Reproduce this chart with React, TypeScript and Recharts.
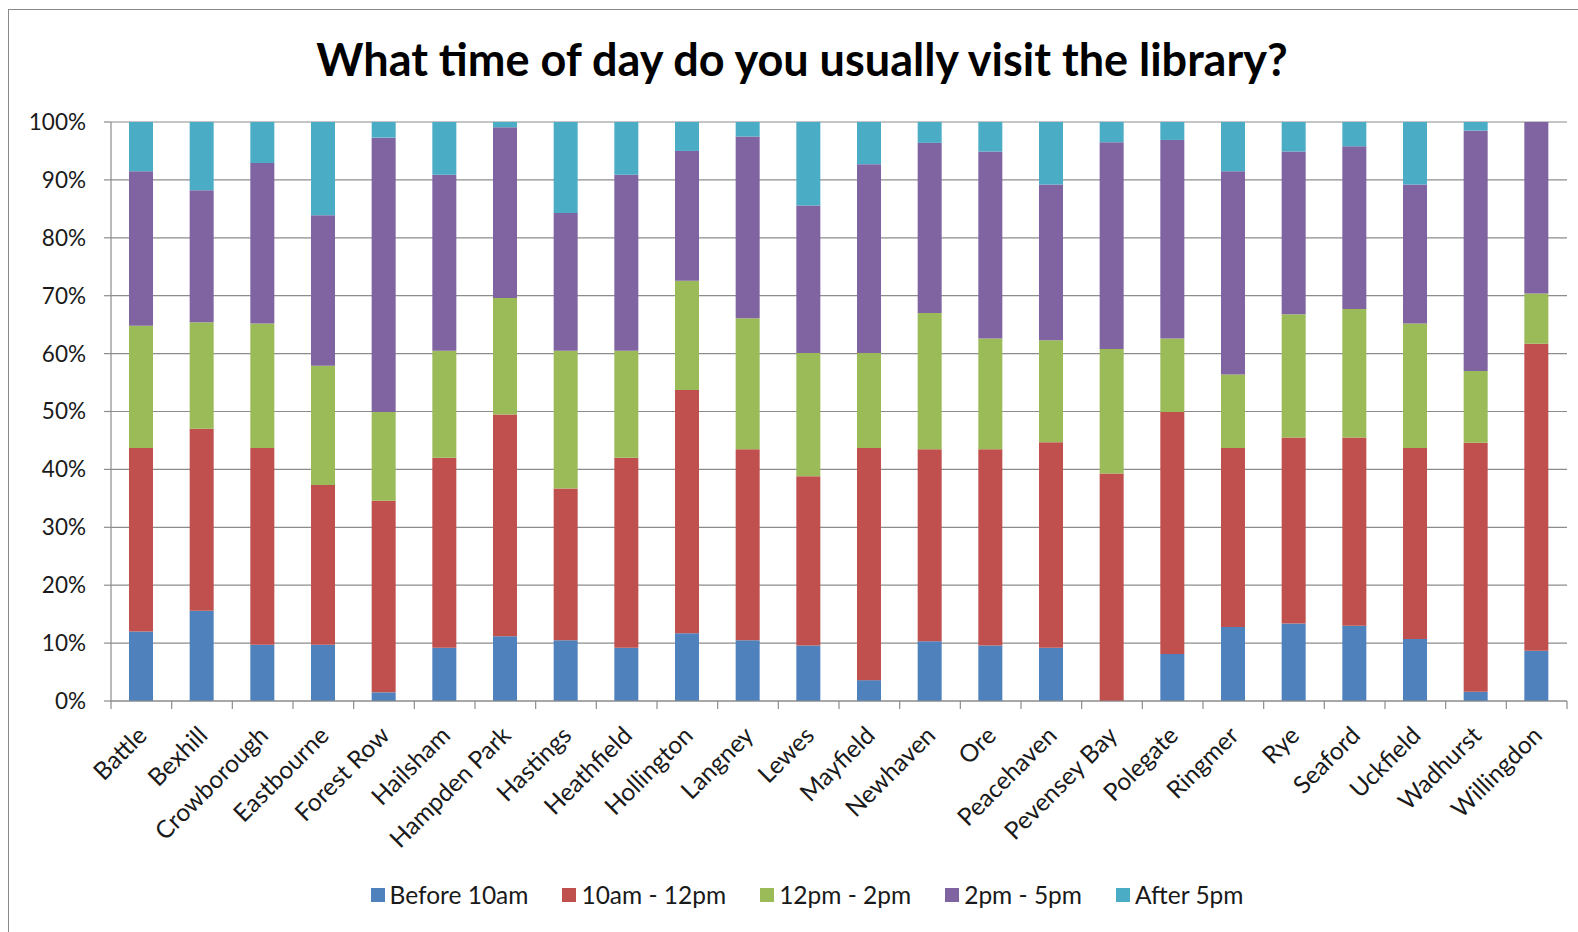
import React from "react";
import { BarChart, Bar, XAxis, YAxis, CartesianGrid } from "recharts";

const libraries = [
  "Battle", "Bexhill", "Crowborough", "Eastbourne", "Forest Row", "Hailsham",
  "Hampden Park", "Hastings", "Heathfield", "Hollington", "Langney", "Lewes",
  "Mayfield", "Newhaven", "Ore", "Peacehaven", "Pevensey Bay", "Polegate",
  "Ringmer", "Rye", "Seaford", "Uckfield", "Wadhurst", "Willingdon",
];

// percentages, per library
const before10 = [12, 15.6, 9.7, 9.7, 1.5, 9.2, 11.2, 10.5, 9.2, 11.7, 10.5, 9.6, 3.6, 10.3, 9.6, 9.2, 0, 8.1, 12.8, 13.4, 13, 10.7, 1.6, 8.7];
const am10to12 = [31.7, 31.4, 34, 27.6, 33.1, 32.8, 38.3, 26.2, 32.8, 42, 33, 29.2, 40.1, 33.2, 33.9, 35.5, 39.3, 41.8, 30.9, 32.1, 32.5, 33, 43, 53];
const pm12to2 = [21.1, 18.4, 21.5, 20.6, 15.3, 18.5, 20.1, 23.8, 18.5, 18.9, 22.6, 21.3, 16.4, 23.5, 19.1, 17.6, 21.5, 12.7, 12.7, 21.3, 22.2, 21.5, 12.4, 8.7];
const pm2to5 = [26.7, 22.8, 27.7, 26, 47.4, 30.4, 29.5, 23.8, 30.4, 22.4, 31.4, 25.5, 32.6, 29.4, 32.3, 26.9, 35.7, 34.3, 35.1, 28.1, 28.1, 24, 41.5, 29.6];
const after5 = [8.5, 11.8, 7.1, 16.1, 2.7, 9.1, 0.9, 15.7, 9.1, 5, 2.5, 14.4, 7.3, 3.6, 5.1, 10.8, 3.5, 3.1, 8.5, 5.1, 4.2, 10.8, 1.5, 0];

const seriesNames = ["Before 10am", "10am - 12pm", "12pm - 2pm", "2pm - 5pm", "After 5pm"];
const seriesColors = ["#4F81BD", "#C0504D", "#9BBB59", "#8064A2", "#4BACC6"];
const yTicks = [0, 0.1, 0.2, 0.3, 0.4, 0.5, 0.6, 0.7, 0.8, 0.9, 1];

const data = libraries.map((name, i) => ({
  name,
  [seriesNames[0]]: before10[i],
  [seriesNames[1]]: am10to12[i],
  [seriesNames[2]]: pm12to2[i],
  [seriesNames[3]]: pm2to5[i],
  [seriesNames[4]]: after5[i],
}));

const W = 1578;
const H = 932;
const PLOT_LEFT = 111;
const PLOT_RIGHT = 1567;
const PLOT_TOP = 122;
const PLOT_BOTTOM = 701;
const BAND = (PLOT_RIGHT - PLOT_LEFT) / libraries.length;
const FONT = "Lato, 'Open Sans', sans-serif";
const GRID = "#8c8c8c";
const INK = "#1a1a1a";

function CategoryTick(props: any) {
  const { x, index, payload } = props;
  const y = PLOT_BOTTOM;
  const ax = x + 7;
  const ay = y + 36;
  return (
    <g>
      <line x1={x - BAND / 2} y1={y} x2={x - BAND / 2} y2={y + 8} stroke={GRID} strokeWidth={1.2} />
      {index === libraries.length - 1 && (
        <line x1={x + BAND / 2} y1={y} x2={x + BAND / 2} y2={y + 8} stroke={GRID} strokeWidth={1.2} />
      )}
      <text
        x={ax}
        y={ay}
        textAnchor="end"
        transform={`rotate(-45, ${ax}, ${ay})`}
        fontSize={24.5}
        fontFamily={FONT}
        fill={INK}
      >
        {payload.value}
      </text>
    </g>
  );
}

export default function App() {
  return (
    <div style={{ position: "fixed", left: 0, top: 0, width: W, height: H, overflow: "hidden", background: "#fff" }}>
      <div
        style={{
          position: "absolute", left: 8, top: 9, width: W + 20, height: H + 20,
          border: "1.5px solid #8a8a8a", boxSizing: "border-box",
        }}
      />
      <div
        style={{
          position: "absolute", left: 0, top: 32, width: 1604, textAlign: "center",
          fontFamily: FONT, fontWeight: 700, fontSize: 45, color: "#000",
        }}
      >
        What time of day do you usually visit the library?
      </div>
      <div style={{ position: "absolute", left: 0, top: 0 }}>
        <BarChart
          width={W}
          height={H}
          data={data}
          stackOffset="expand"
          barSize={24}
          margin={{ top: PLOT_TOP, right: W - PLOT_RIGHT, left: 0, bottom: 0 }}
        >
          <CartesianGrid vertical={false} stroke={GRID} strokeWidth={1.2} />
          <XAxis
            dataKey="name"
            interval={0}
            height={H - PLOT_BOTTOM}
            tickLine={false}
            axisLine={{ stroke: GRID, strokeWidth: 1.2 }}
            tick={<CategoryTick />}
          />
          <YAxis
            width={PLOT_LEFT}
            domain={[0, 1]}
            ticks={yTicks}
            tickFormatter={(v: number) => `${Math.round(v * 100)}%`}
            tickSize={7}
            tickMargin={18}
            tickLine={{ stroke: GRID, strokeWidth: 1.2 }}
            axisLine={{ stroke: GRID, strokeWidth: 1.2 }}
            tick={{ fontSize: 22.5, fontFamily: FONT, fill: INK }}
          />
          {seriesNames.map((s, i) => (
            <Bar key={s} dataKey={s} stackId="a" fill={seriesColors[i]} isAnimationActive={false} />
          ))}
        </BarChart>
      </div>
      <div
        style={{
          position: "absolute", left: 0, top: 880, width: 1614, display: "flex", justifyContent: "center",
          fontFamily: FONT, fontSize: 24.5, color: INK,
        }}
      >
        {seriesNames.map((s, i) => (
          <div key={s} style={{ display: "flex", alignItems: "center", margin: "0 17px" }}>
            <span style={{ width: 14, height: 14, background: seriesColors[i], display: "inline-block", marginRight: 5 }} />
            <span>{s}</span>
          </div>
        ))}
      </div>
    </div>
  );
}
